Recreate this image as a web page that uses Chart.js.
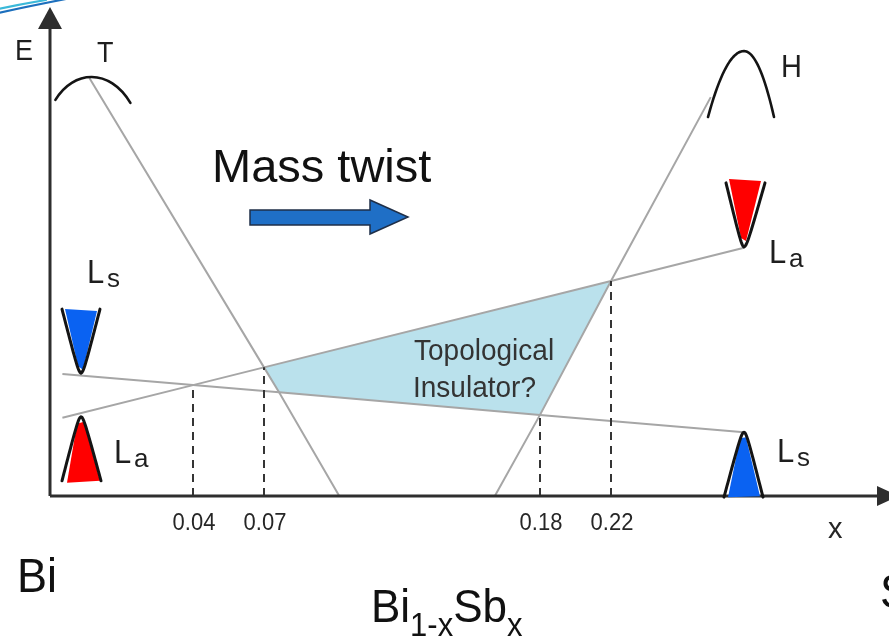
<!DOCTYPE html>
<html>
<head>
<meta charset="utf-8">
<script src="https://cdn.jsdelivr.net/npm/chart.js@4.4.1/dist/chart.umd.min.js"></script>
<style>
  html, body { margin: 0; padding: 0; background: #ffffff; }
  #wrap { width: 889px; height: 642px; position: relative; }
</style>
</head>
<body>
<div id="wrap"><canvas id="c" width="889" height="642"></canvas></div>
<script>
// Bi(1-x)Sb(x) band-edge schematic: energy E (arbitrary units, 0..100) versus Sb fraction x.

// Compositions where the band lines cross (dashed guides and axis labels)
const crossX = [0.04, 0.07, 0.18, 0.22];
const crossE = [23.1, 26.8, 16.9, 44.8];
const tickLabels = ['0.04', '0.07', '0.18', '0.22'];

// L_s band edge (conduction edge at Bi, valence edge on the Sb-rich side)
const lsX = [-0.006, 0.04, 0.076, 0.18, 0.30];
const lsE = [25.4, 23.1, 21.6, 16.9, 13.3];

// L_a band edge
const laX = [-0.006, 0.04, 0.07, 0.22, 0.30];
const laE = [16.3, 23.1, 26.8, 44.8, 51.7];

// T-point valence band top
const tX = [0.003, 0.07, 0.076, 0.10];
const tE = [87.1, 26.8, 21.6, 0];

// H-point valence band top
const hX = [0.162, 0.18, 0.22, 0.28];
const hE = [0, 16.9, 44.8, 83.1];

// Region bounded by the four band lines
const tiX = [0.07, 0.22, 0.18, 0.076];
const tiE = [26.8, 44.8, 16.9, 21.6];

// Band extrema shown as small dispersion sketches
const edgeX = [0, 0, 0.30, 0.30, 0.003, 0.30];
const edgeE = [25.6, 16.5, 51.9, 13.3, 87.1, 92.7];
const edgeKind = ['condBlue', 'valRed', 'condRed', 'valBlue', 'humpT', 'humpH'];

const pts = (xs, ys) => xs.map((x, i) => ({ x: x, y: ys[i] }));

// Schematic (piecewise-linear) composition axis
const axisComp = [-0.01, 0, 0.04, 0.07, 0.18, 0.22, 0.30, 0.35];
const axisFrac = [0, 31 / 830, 143 / 830, 214 / 830, 490 / 830, 561 / 830, 694 / 830, 1];
function interp(v, from, to) {
  if (v <= from[0]) return to[0] + (v - from[0]) * (to[1] - to[0]) / (from[1] - from[0]);
  for (let i = 1; i < from.length; i++) {
    if (v <= from[i]) {
      const t = (v - from[i - 1]) / (from[i] - from[i - 1]);
      return to[i - 1] + t * (to[i] - to[i - 1]);
    }
  }
  const n = from.length - 1;
  return to[n] + (v - from[n]) * (to[n] - to[n - 1]) / (from[n] - from[n - 1]);
}
class SchematicScale extends Chart.LinearScale {
  getPixelForValue(v) { return this.getPixelForDecimal(interp(v, axisComp, axisFrac)); }
  getValueForPixel(p) { return interp(this.getDecimalForPixel(p), axisFrac, axisComp); }
}
SchematicScale.id = 'schematic';
SchematicScale.defaults = Chart.LinearScale.defaults;
Chart.register(SchematicScale);

const FONT = '"Liberation Sans", Arial, Helvetica, sans-serif';
const BLUE = '#0a62f2';
const RED = '#ff0000';

function txt(ctx, s, x, y, size, opts) {
  opts = opts || {};
  ctx.save();
  ctx.font = size + 'px ' + FONT;
  ctx.fillStyle = opts.color || '#1e1e1e';
  ctx.textAlign = opts.align || 'left';
  ctx.textBaseline = 'alphabetic';
  ctx.translate(x, y);
  ctx.scale(opts.sx || 1, opts.sy || 1.06);
  ctx.fillText(s, 0, 0);
  ctx.restore();
}

function textWidth(ctx, s, size) {
  ctx.save();
  ctx.font = size + 'px ' + FONT;
  const w = ctx.measureText(s).width;
  ctx.restore();
  return w;
}

// Rounded-V dispersion outline; dir = -1 opens upward, +1 opens downward
function vCurve(ctx, vx, vy, wl, wr, h, dir) {
  const e = 0.15;
  const norm = Math.sqrt(1 + e * e) - e;
  ctx.beginPath();
  for (let i = 0; i <= 40; i++) {
    const t = -1 + i / 20;
    const u = Math.abs(t);
    const g = (Math.sqrt(u * u + e * e) - e) / norm;
    const x = vx + (t < 0 ? t * wl : t * wr);
    const y = vy + dir * h * g;
    if (i === 0) ctx.moveTo(x, y); else ctx.lineTo(x, y);
  }
  ctx.stroke();
}

function poly(ctx, vx, vy, rel, color) {
  ctx.beginPath();
  rel.forEach((p, i) => {
    if (i === 0) ctx.moveTo(vx + p[0], vy + p[1]); else ctx.lineTo(vx + p[0], vy + p[1]);
  });
  ctx.closePath();
  ctx.fillStyle = color;
  ctx.fill();
}

function drawEdge(ctx, kind, vx, vy) {
  ctx.save();
  ctx.strokeStyle = '#141414';
  ctx.lineWidth = 3;
  ctx.lineCap = 'round';
  ctx.lineJoin = 'round';
  if (kind === 'condBlue') {
    poly(ctx, vx, vy, [[-16, -64], [16, -62], [2, -3], [-3, -7]], BLUE);
    vCurve(ctx, vx, vy, 19, 19, 64, -1);
  } else if (kind === 'condRed') {
    poly(ctx, vx, vy, [[-15, -68], [17, -66], [2, -6], [-3, -9]], RED);
    vCurve(ctx, vx, vy, 18, 21, 64, -1);
  } else if (kind === 'valRed') {
    poly(ctx, vx, vy, [[-4, 7], [3, 5], [19, 64], [-14, 66]], RED);
    vCurve(ctx, vx, vy, 19, 20, 64, 1);
  } else if (kind === 'valBlue') {
    poly(ctx, vx, vy, [[-4, 6], [2, 5], [16, 64], [-16, 65]], BLUE);
    vCurve(ctx, vx, vy, 20, 19, 65, 1);
  } else if (kind === 'humpT') {
    ctx.lineWidth = 2.6;
    ctx.beginPath();
    ctx.moveTo(vx - 34, vy + 22);
    ctx.bezierCurveTo(vx - 16, vy - 8, vx + 20, vy - 10, vx + 41, vy + 25);
    ctx.stroke();
  } else if (kind === 'humpH') {
    ctx.lineWidth = 2.6;
    ctx.beginPath();
    for (let i = 0; i <= 40; i++) {
      const t = -1 + i / 20;
      const w = t < 0 ? 36 : 30;
      const x = vx + t * w;
      const y = vy + 66 * t * t;
      if (i === 0) ctx.moveTo(x, y); else ctx.lineTo(x, y);
    }
    ctx.stroke();
  }
  ctx.restore();
}

const decorations = {
  id: 'decorations',
  beforeDraw(chart) {
    const ctx = chart.ctx;
    ctx.save();
    ctx.fillStyle = '#ffffff';
    ctx.fillRect(0, 0, chart.width, chart.height);
    // corner swoosh
    ctx.lineCap = 'round';
    ctx.strokeStyle = '#3bb9d9';
    ctx.lineWidth = 2.2;
    ctx.beginPath();
    ctx.moveTo(-2, 9);
    ctx.quadraticCurveTo(22, 4, 46, 0);
    ctx.stroke();
    ctx.strokeStyle = '#1c6fbd';
    ctx.lineWidth = 2.2;
    ctx.beginPath();
    ctx.moveTo(-2, 13);
    ctx.quadraticCurveTo(30, 6, 66, -1);
    ctx.stroke();
    ctx.restore();
  },
  afterDatasetsDraw(chart) {
    const ctx = chart.ctx;
    const xs = chart.scales.x;
    const ys = chart.scales.y;
    const a = chart.chartArea;
    const x0 = xs.getPixelForValue(axisComp[0]);
    const y0 = ys.getPixelForValue(0);

    // axes with arrowheads
    ctx.save();
    ctx.strokeStyle = '#2e2e2e';
    ctx.fillStyle = '#2e2e2e';
    ctx.lineWidth = 3;
    ctx.beginPath();
    ctx.moveTo(x0, y0);
    ctx.lineTo(x0, 26);
    ctx.moveTo(x0, y0);
    ctx.lineTo(a.right, y0);
    ctx.stroke();
    ctx.beginPath();
    ctx.moveTo(x0 - 12, 29);
    ctx.lineTo(x0, 7);
    ctx.lineTo(x0 + 12, 29);
    ctx.closePath();
    ctx.fill();
    ctx.beginPath();
    ctx.moveTo(877, y0 - 10);
    ctx.lineTo(899, y0);
    ctx.lineTo(877, y0 + 10);
    ctx.closePath();
    ctx.fill();
    ctx.restore();

    // band-extremum sketches
    const meta = chart.getDatasetMeta(chart.data.datasets.findIndex(d => d.label === 'edges'));
    meta.data.forEach((el, i) => drawEdge(ctx, edgeKind[i], el.x, el.y));

    // composition labels under the guides
    crossX.forEach((v, i) => {
      txt(ctx, tickLabels[i], xs.getPixelForValue(v) + 1, 530, 22, { align: 'center', color: '#262626', sy: 1.06 });
    });
    txt(ctx, 'x', 828, 538, 29, { color: '#262626', sy: 1.0 });
    txt(ctx, 'E', 15, 60, 27, { sy: 1.08 });
    txt(ctx, 'T', 97, 62, 27, { sy: 1.08 });
    txt(ctx, 'H', 781, 77, 29, { sy: 1.05 });

    // band labels
    const lab = (x, y, sub) => {
      txt(ctx, 'L', x, y, 31, { sy: 1.05 });
      txt(ctx, sub, x + 20, y + 4, 26, { sy: 1.0 });
    };
    lab(87, 283, 's');
    lab(114, 463, 'a');
    lab(769, 263, 'a');
    lab(777, 462, 's');

    txt(ctx, 'Topological', 414, 360, 28, { color: '#333333', sy: 1.05 });
    txt(ctx, 'Insulator?', 413, 397, 28, { color: '#333333', sy: 1.05 });

    // "Mass twist" arrow
    txt(ctx, 'Mass twist', 212, 182, 47, { color: '#111111', sy: 1.0 });
    ctx.save();
    ctx.beginPath();
    ctx.moveTo(250, 210);
    ctx.lineTo(370, 210);
    ctx.lineTo(370, 200);
    ctx.lineTo(408, 217);
    ctx.lineTo(370, 234);
    ctx.lineTo(370, 225);
    ctx.lineTo(250, 225);
    ctx.closePath();
    ctx.fillStyle = '#1f6fc6';
    ctx.fill();
    ctx.strokeStyle = '#1f2f48';
    ctx.lineWidth = 1.5;
    ctx.stroke();
    ctx.restore();

    // compound names
    txt(ctx, 'Bi', 17, 592, 45, { color: '#111111', sy: 1.05 });
    let cx = 371;
    const by = 622;
    txt(ctx, 'Bi', cx, by, 44, { color: '#111111', sy: 1.05 });
    cx += textWidth(ctx, 'Bi', 44);
    txt(ctx, '1-x', cx, by + 14, 31, { color: '#111111', sy: 1.05 });
    cx += textWidth(ctx, '1-x', 31);
    txt(ctx, 'Sb', cx, by, 44, { color: '#111111', sy: 1.05 });
    cx += textWidth(ctx, 'Sb', 44);
    txt(ctx, 'x', cx, by + 14, 31, { color: '#111111', sy: 1.05 });
    txt(ctx, 'Sb', 880, 608, 45, { color: '#111111', sy: 1.05 });
  }
};

const grey = '#a6a6a6';
const guide = (i) => ({
  label: 'guide' + i,
  data: [{ x: crossX[i], y: 0 }, { x: crossX[i], y: crossE[i] }],
  showLine: true, borderColor: '#353535', borderWidth: 2, borderDash: [8, 6],
  pointRadius: 0, fill: false, order: 2
});

new Chart(document.getElementById('c'), {
  type: 'scatter',
  data: {
    datasets: [
      { label: 'edges', data: pts(edgeX, edgeE), pointRadius: 0, showLine: false, order: 0 },
      { label: 'Ls', data: pts(lsX, lsE), showLine: true, borderColor: grey, borderWidth: 2, pointRadius: 0, order: 3 },
      { label: 'La', data: pts(laX, laE), showLine: true, borderColor: grey, borderWidth: 2, pointRadius: 0, order: 3 },
      { label: 'T', data: pts(tX, tE), showLine: true, borderColor: grey, borderWidth: 2, pointRadius: 0, order: 3 },
      { label: 'H', data: pts(hX, hE), showLine: true, borderColor: grey, borderWidth: 2, pointRadius: 0, order: 3 },
      guide(0), guide(1), guide(2), guide(3),
      { label: 'TI', data: pts(tiX, tiE), showLine: true, borderWidth: 0, borderColor: 'rgba(0,0,0,0)',
        backgroundColor: 'rgb(186,225,236)', fill: 'shape', pointRadius: 0, order: 10 }
    ]
  },
  options: {
    responsive: false,
    animation: false,
    events: [],
    layout: { padding: { left: 50, right: 9, top: 16, bottom: 146 } },
    plugins: { legend: { display: false }, tooltip: { enabled: false } },
    scales: {
      x: { type: 'schematic', min: axisComp[0], max: axisComp[axisComp.length - 1], display: false },
      y: { type: 'linear', min: 0, max: 100, display: false }
    }
  },
  plugins: [decorations]
});
</script>
</body>
</html>
